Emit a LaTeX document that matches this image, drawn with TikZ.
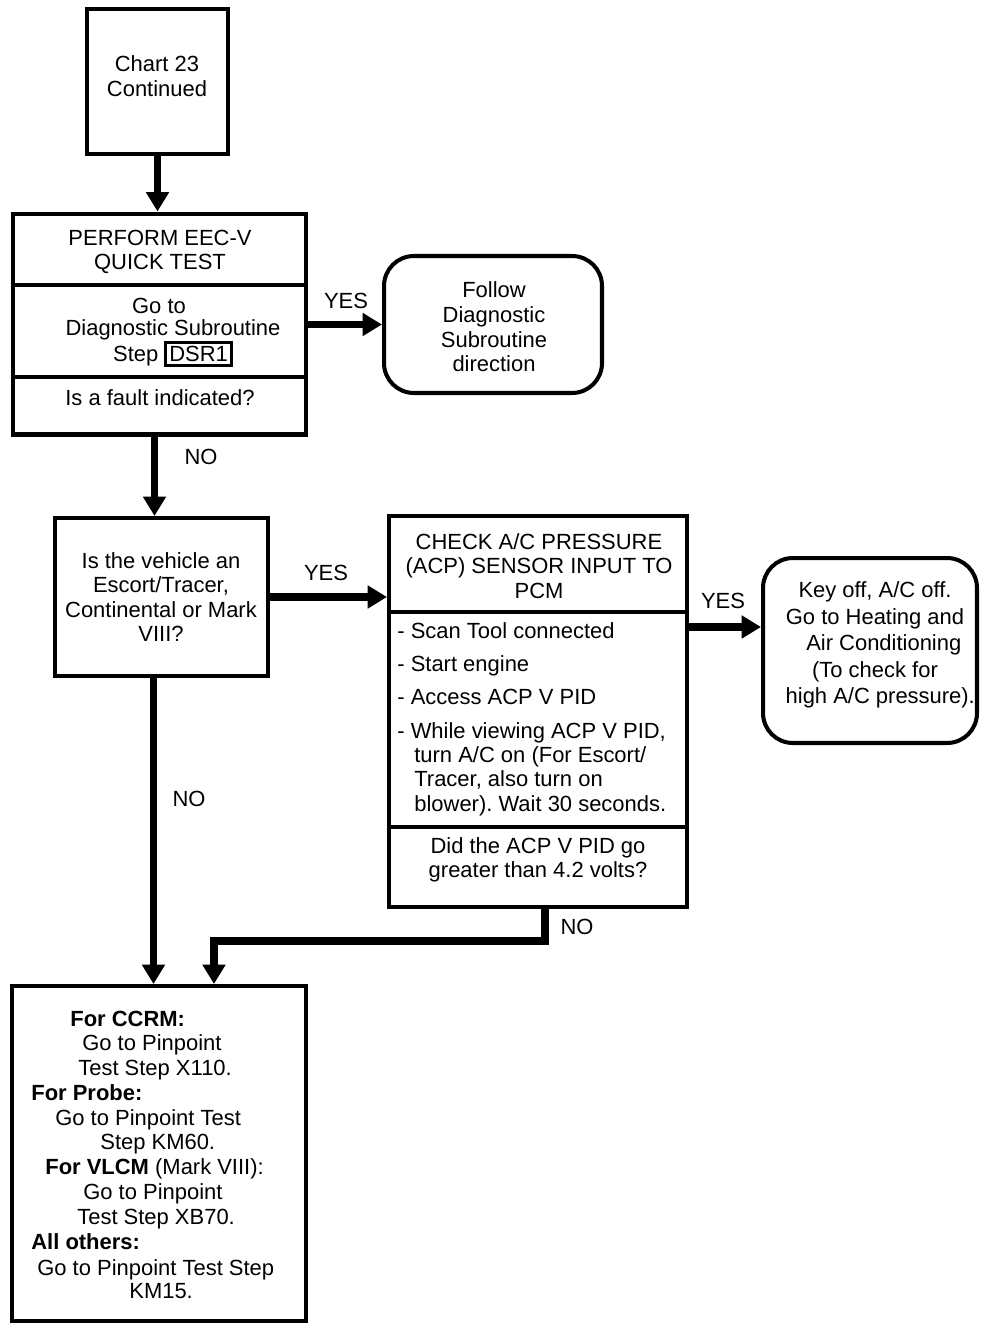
\documentclass[tikz,border=0pt]{standalone}
\usepackage{fontspec}
\setmainfont{Liberation Sans}
\usetikzlibrary{arrows.meta,calc}
\setlength{\fboxsep}{1.2pt}
\setlength{\fboxrule}{1.6pt}
\frenchspacing
\begin{document}
\begin{tikzpicture}[x=0.02cm,y=-0.02cm,
  font=\fontsize{12.5}{14}\selectfont,
  box/.style={draw, line width=2.3pt, inner sep=0pt, rectangle},
  rbox/.style={box, rounded corners=17pt},
  arr/.style={line width=4pt, -{Triangle[width=12.5pt,length=11pt]}},
  divider/.style={line width=2pt},
  lbl/.style={inner sep=0pt},
  txt/.style={inner sep=0pt, align=center},
  ln/.style={inner sep=0pt, anchor=base west},
]
\useasboundingbox (0,0) rectangle (992,1328);

% boxes
\node[box, minimum width=2.82cm, minimum height=2.90cm] (A) at (157.5,81.5) {};
\node[box, minimum width=5.88cm, minimum height=4.42cm] (B) at (159.5,324) {};
\node[rbox, minimum width=4.36cm, minimum height=2.74cm] (C) at (493,324.5) {};
\node[box, minimum width=4.26cm, minimum height=3.16cm] (D) at (161.5,597) {};
\node[box, minimum width=5.96cm, minimum height=7.82cm] (E) at (538,711.5) {};
\node[rbox, minimum width=4.28cm, minimum height=3.70cm] (F) at (870,650.5) {};
\node[box, minimum width=5.88cm, minimum height=6.70cm] (G) at (159,1153.5) {};

% dividers
\draw[divider] (B.west |- 0,285) -- (B.east |- 0,285);
\draw[divider] (B.west |- 0,377) -- (B.east |- 0,377);
\draw[divider] (E.west |- 0,612) -- (E.east |- 0,612);
\draw[divider] (E.west |- 0,827) -- (E.east |- 0,827);

% texts
\node[txt] (ta) at (157,76) {Chart 23\\Continued};
\node[txt] (tb1) at (160,252) {PERFORM EEC-V\\QUICK TEST};
\node[txt] (tb2a) at (159,306) {Go to};
\node[txt] (tb2b) at (173,343) {Diagnostic Subroutine\\Step \fbox{DSR1}};
\node[txt] (tb3) at (160,398) {Is a fault indicated?};
\node[txt] (tc) at (494,327) {Follow\\Diagnostic\\Subroutine\\direction};
\node[txt] (td) at (161,597) {Is the vehicle an\\Escort/Tracer,\\Continental or Mark\\VIII?};
\node[txt] (te1) at (539,566) {CHECK A/C PRESSURE\\(ACP) SENSOR INPUT TO\\PCM};
\node[ln] (e1) at (397,638.5) {- Scan Tool connected};
\node[ln] (e2) at (397,671.5) {- Start engine};
\node[ln] (e3) at (397,704.5) {- Access ACP V PID};
\node[ln] (e4) at (397,738.5) {- While viewing ACP V PID,};
\node[ln] (e5) at (414,762.5) {turn A/C on (For Escort/};
\node[ln] (e6) at (414,786.5) {Tracer, also turn on};
\node[ln] (e7) at (414,811.5) {blower). Wait 30 seconds.};
\node[txt] (te3) at (538,860) {Did the ACP V PID go\\greater than 4.2 volts?};
\node[txt, font=\fontsize{12.5}{15}\selectfont] (tf) at (875,645)
  {Key off, A/C off.\\Go to Heating and\\\hspace*{10pt}Air Conditioning\\(To check for\\\hspace*{6pt}high A/C pressure).};

\node[ln] (g1) at (70,1026) {\bfseries For CCRM:};
\node[ln] (g2) at (82,1050) {Go to Pinpoint};
\node[ln] (g3) at (78,1075) {Test Step X110.};
\node[ln] (g4) at (31,1100) {\bfseries For Probe:};
\node[ln] (g5) at (55,1125) {Go to Pinpoint Test};
\node[ln] (g6) at (100,1149) {Step KM60.};
\node[ln] (g7) at (45,1174) {\textbf{For VLCM} (Mark VIII):};
\node[ln] (g8) at (83,1199) {Go to Pinpoint};
\node[ln] (g9) at (77,1224) {Test Step XB70.};
\node[ln] (g10) at (31,1249) {\bfseries All others:};
\node[ln] (g11) at (37,1275) {Go to Pinpoint Test Step};
\node[ln] (g12) at (129,1298) {KM15.};

% connectors
\draw[arr] (A.south) -- (A.south |- B.north);
\draw[arr] (B.east |- C.west) -- (C.west);
\draw[arr] ([xshift=-0.1cm]B.south) -- ([xshift=-0.1cm]B.south |- D.north);
\draw[arr] (D.east) -- (D.east -| E.west);
\draw[arr] ([yshift=-2.26cm]E.north east) -- ([yshift=-2.26cm]E.north east -| F.west);
\draw[arr] ([xshift=-0.16cm]D.south) -- ([xshift=-0.16cm]D.south |- G.north);
\draw[arr] ([xshift=0.14cm]E.south) -- ++(0,32) -| ([xshift=1.1cm]G.north);

% connector labels
\node[lbl] (yes1) at (346,301) {YES};
\node[lbl] (no1) at (201,457) {NO};
\node[lbl] (yes2) at (326,573) {YES};
\node[lbl] (no2) at (189,799) {NO};
\node[lbl] (yes3) at (723,601) {YES};
\node[lbl] (no3) at (577,927) {NO};
\end{tikzpicture}
\end{document}
